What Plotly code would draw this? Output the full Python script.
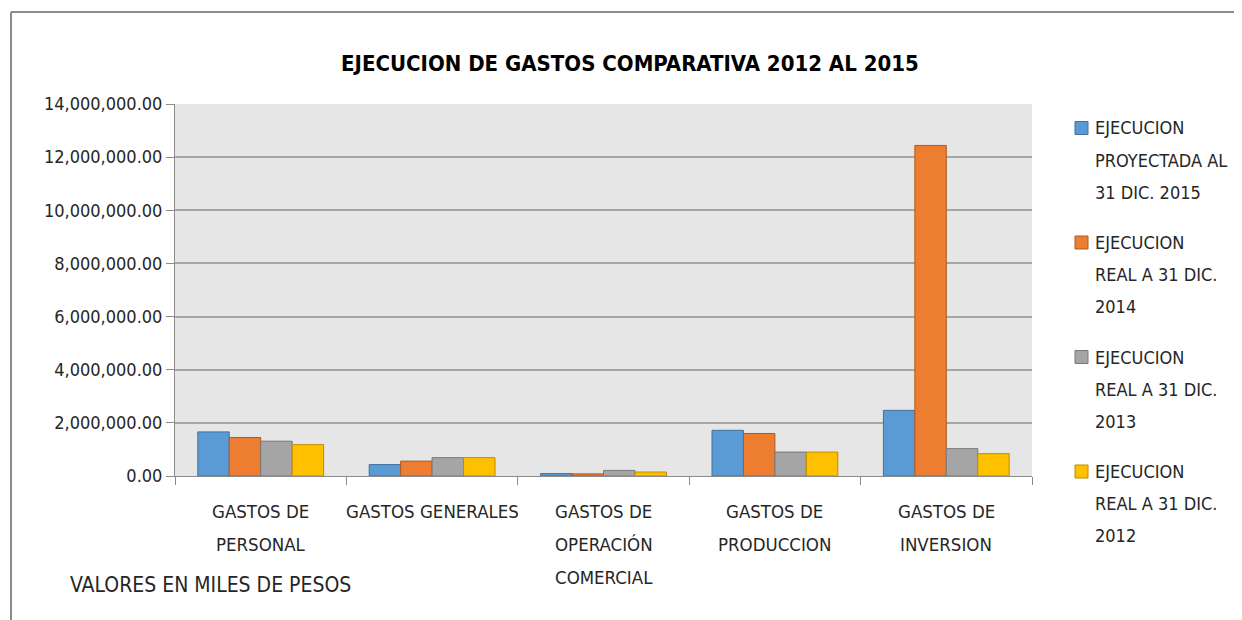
import plotly.graph_objects as go

categories = ["GASTOS DE\nPERSONAL", "GASTOS GENERALES", "GASTOS DE\nOPERACIÓN\nCOMERCIAL",
              "GASTOS DE\nPRODUCCION", "GASTOS DE\nINVERSION"]
series_names = ["EJECUCION\nPROYECTADA AL\n31 DIC. 2015", "EJECUCION\nREAL A 31 DIC.\n2014",
                "EJECUCION\nREAL A 31 DIC.\n2013", "EJECUCION\nREAL A 31 DIC.\n2012"]
proy_2015 = [1660000, 430000, 90000, 1720000, 2470000]
real_2014 = [1450000, 560000, 80000, 1600000, 12440000]
real_2013 = [1310000, 690000, 210000, 900000, 1030000]
real_2012 = [1180000, 690000, 150000, 900000, 840000]
series_values = [proy_2015, real_2014, real_2013, real_2012]
colors = ["#5b9bd5", "#ed7d31", "#a5a5a5", "#ffc000"]
outlines = ["#41719c", "#ae5a21", "#787878", "#bc8c00"]
y_ticks = [0, 2000000, 4000000, 6000000, 8000000, 10000000, 12000000, 14000000]

FONT = "DejaVu Sans Condensed, Liberation Sans Narrow, sans-serif"
OFF = 8  # page body margin
W, H = 1242 - OFF, 620 - OFF
L, T = 175 - OFF, 104 - OFF
R = W - (1032 - OFF)
B = H - (476 - OFF)
PW, PH = W - L - R, H - T - B

def px_x(x):
    return (x - OFF - L) / PW

def px_y(y):
    return 1 - (y - OFF - T) / PH

x_keys = [c.replace("\n", " ") for c in categories]

fig = go.Figure()
for name, vals, col, oc in zip(series_names, series_values, colors, outlines):
    fig.add_trace(go.Bar(x=x_keys, y=vals, name=name.replace("\n", " "),
                         marker=dict(color=col, line=dict(color=oc, width=1)),
                         showlegend=False))

annotations = []
for key, cat in zip(x_keys, categories):
    for i, line in enumerate(cat.split("\n")):
        annotations.append(dict(x=key, xref="x", y=px_y(512 + 32.5 * i), yref="paper",
                                text=line, showarrow=False, xanchor="center", yanchor="middle",
                                font=dict(family=FONT, size=18.5, color="#262626")))

shapes = []
for g, (name, col, oc) in enumerate(zip(series_names, colors, outlines)):
    y0 = 128 + 114.5 * g
    shapes.append(dict(type="rect", xref="paper", yref="paper",
                       x0=px_x(1075), x1=px_x(1088), y0=px_y(y0 - 6.5), y1=px_y(y0 + 6.5),
                       fillcolor=col, line=dict(color=oc, width=1)))
    for i, line in enumerate(name.split("\n")):
        annotations.append(dict(x=px_x(1093), xref="paper", y=px_y(y0 + 32 * i), yref="paper",
                                text=line, showarrow=False, xanchor="left", yanchor="middle",
                                font=dict(family=FONT, size=18, color="#262626")))

annotations.append(dict(x=px_x(68), xref="paper", y=px_y(585), yref="paper",
                        text="VALORES EN MILES DE PESOS", showarrow=False, xanchor="left",
                        yanchor="middle", font=dict(family=FONT, size=21, color="#262626")))
annotations.append(dict(x=px_x(630), xref="paper", y=px_y(63), yref="paper",
                        text="<b>EJECUCION DE GASTOS COMPARATIVA 2012 AL 2015</b>", showarrow=False,
                        xanchor="center", yanchor="middle",
                        font=dict(family=FONT, size=22, color="#000000")))

shapes.append(dict(type="line", xref="paper", yref="paper", x0=px_x(11), x1=px_x(1250),
                   y0=px_y(12), y1=px_y(12), line=dict(color="#8c8c8c", width=2)))
shapes.append(dict(type="line", xref="paper", yref="paper", x0=px_x(11), x1=px_x(11),
                   y0=px_y(12), y1=px_y(630), line=dict(color="#8c8c8c", width=2)))

fig.update_layout(
    width=W, height=H,
    margin=dict(l=L, r=R, t=T, b=B),
    paper_bgcolor="white", plot_bgcolor="#e6e6e6",
    barmode="group", bargap=0.266, bargroupgap=0,
    annotations=annotations, shapes=shapes,
    font=dict(family=FONT, size=18, color="#262626"),
)
fig.update_xaxes(showticklabels=False, ticks="outside", tickson="boundaries", ticklen=8,
                 tickcolor="#8c8c8c", showline=True, linecolor="#8c8c8c", linewidth=1,
                 showgrid=False)
fig.update_yaxes(range=[0, 14000000], tickvals=y_ticks, tickformat=",.2f", ticks="outside",
                 ticklen=8, tickcolor="#8c8c8c", showline=True, linecolor="#8c8c8c", linewidth=1,
                 gridcolor="#a6a6a6", gridwidth=2, zeroline=False,
                 tickfont=dict(family=FONT, size=18, color="#262626"))

fig.write_html("out.html")
